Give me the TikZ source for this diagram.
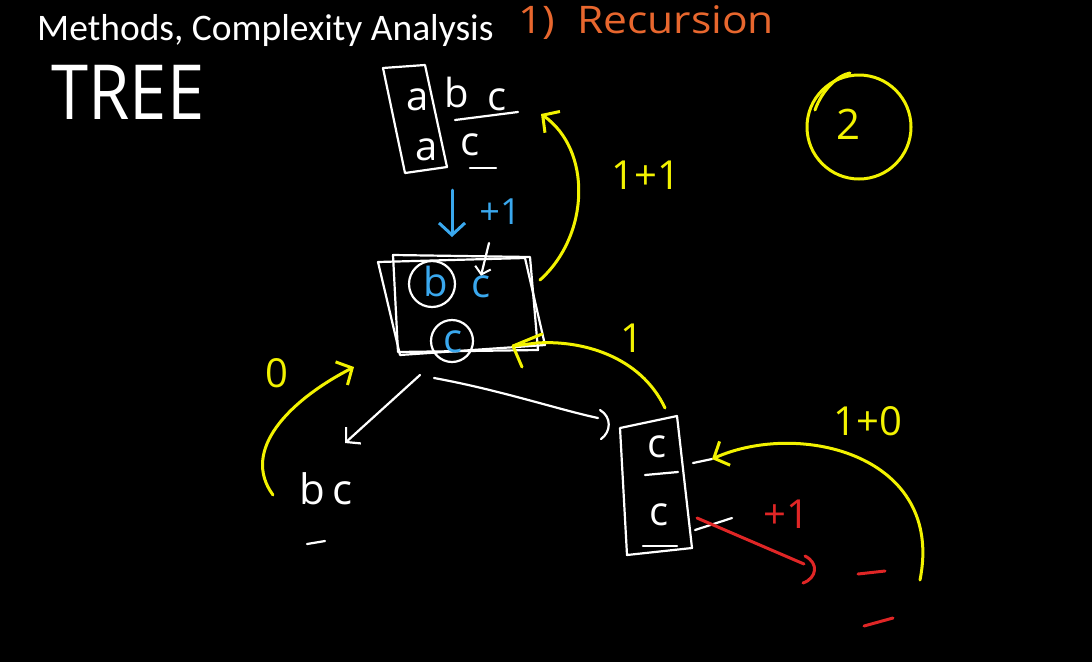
\documentclass[tikz,border=0pt]{standalone}
\usepackage{fontspec}
\setmainfont{Open Sans}
\newfontfamily\titlefont{Carlito}
\usetikzlibrary{arrows.meta}
\definecolor{hy}{HTML}{F2F200}
\definecolor{hb}{HTML}{3AA8EE}
\definecolor{hr}{HTML}{E02626}
\definecolor{ho}{HTML}{E8672E}
\tikzset{
  wl/.style={draw=white, line width=2.2pt},
  yl/.style={draw=hy, line width=3pt},
  bl/.style={draw=hb, line width=3pt},
  rl/.style={draw=hr, line width=3pt},
  barb/.style={-{Straight Barb[length=12pt,width=26pt,line width=3pt]}},
  wbarb/.style={-{Straight Barb[length=10pt,width=22pt,line width=2.2pt]}},
  hw/.style={inner sep=0pt, font=\fontsize{40}{42}\selectfont},
  hws/.style={inner sep=0pt, font=\fontsize{36}{38}\selectfont}
}
\begin{document}
\begin{tikzpicture}[x=1pt,y=-1pt,line cap=round,line join=round]
\fill[black] (0,0) rectangle (1092,662);
\useasboundingbox (0,0) rectangle (1092,662);

% title and headings
\node[inner sep=0pt, anchor=base west, text=white, font=\titlefont\fontsize{37.5}{40}\selectfont] (title) at (37,40) {Methods, Complexity Analysis};
\node[inner sep=0pt, text=ho, xscale=1.12, font=\fontsize{38}{40}\selectfont] (rec) at (646,23) {1)\ \ Recursion};
\node[inner sep=0pt, text=white, xscale=0.88, font=\fontsize{76}{80}\selectfont] (tree) at (128,92) {TREE};

% top box
\coordinate (tb1) at (383,68);
\coordinate (tb2) at (425,65);
\coordinate (tb3) at (447,167);
\coordinate (tb4) at (405,173);
\draw[wl] (tb1) -- (tb2) -- (tb3) -- (tb4) -- cycle;
\node[hw, text=white] (ta1) at (418,100) {a};
\node[hw, text=white] (tb) at (457,92) {b};
\node[hw, text=white] (tc) at (497,100) {c};
\node[hw, text=white] (ta2) at (427,150) {a};
\node[hw, text=white] (tc2) at (470,145) {c};
\coordinate (u1a) at (455,120); \coordinate (u1b) at (518,112);
\draw[wl] (u1a) -- (u1b);
\coordinate (u2a) at (470,168); \coordinate (u2b) at (496,168);
\draw[wl] (u2a) -- (u2b);

% blue arrow +1
\coordinate (ba1) at (452,190);
\coordinate (ba2) at (452,237);
\draw[bl, barb] (ba1) -- (ba2);
\node[hws, text=hb] (bp1) at (500,212) {+1};

% middle box
\coordinate (ma1) at (378,262); \coordinate (ma2) at (525,258);
\coordinate (ma3) at (545,345); \coordinate (ma4) at (400,355);
\draw[wl] (ma1) -- (ma2) -- (ma3) -- (ma4) -- cycle;
\coordinate (mb1) at (393,255); \coordinate (mb2) at (530,257);
\coordinate (mb3) at (538,350); \coordinate (mb4) at (398,352);
\draw[wl] (mb1) -- (mb2) -- (mb3) -- (mb4) -- cycle;
\node[wl, circle, minimum size=46pt, inner sep=0pt] (cb) at (432,284) {};
\node[wl, circle, minimum size=42pt, inner sep=0pt] (cc) at (452,341) {};
\node[hw, text=hb] (bb) at (436,281) {b};
\node[hw, text=hb] (bc1) at (481,287) {c};
\node[hw, text=hb] (bc2) at (453,342) {c};
\coordinate (wa) at (489,243);
\draw[wl, -{Straight Barb[length=7pt,width=16pt,line width=2pt]}] (wa) -- (bc1.north);

% yellow 1+1 arrow
\coordinate (y11s) at (540,280);
\coordinate (y11e) at (541,114);
\draw[yl, barb] (y11s) .. controls (590,235) and (592,150) .. (y11e);
\node[inner sep=0pt, text=hy, font=\fontsize{40}{42}\selectfont] (l11) at (646,175) {1+1};

% circled 2
\node[draw=hy, line width=3pt, circle, minimum size=104pt, inner sep=0pt] (circ2) at (859,127) {};
\coordinate (c2a) at (815,110); \coordinate (c2b) at (850,73);
\draw[yl] (c2a) .. controls (822,90) and (838,75) .. (c2b);
\node[inner sep=0pt, text=hy, font=\fontsize{42}{44}\selectfont] (two) at (848,124) {2};

% white arrows from middle node
\coordinate (wl1) at (420,375);
\coordinate (wl2) at (345,443);
\draw[wl, wbarb] (wl1) -- (wl2);
\coordinate (wc1) at (434,378);
\coordinate (wc2) at (598,418);
\draw[wl] (wc1) .. controls (500,390) and (560,410) .. (wc2);
\coordinate (wp1) at (600,410); \coordinate (wp2) at (601,439);
\draw[wl] (wp1) .. controls (612,417) and (611,432) .. (wp2);

% bc node
\node[inner sep=0pt, text=white, font=\fontsize{42}{44}\selectfont] (nbc) at (326,489) {b\,c};
\coordinate (d1a) at (307,544); \coordinate (d1b) at (325,541);
\draw[wl] (d1a) -- (d1b);

% yellow 0 arrow
\node[inner sep=0pt, text=hy, font=\fontsize{40}{42}\selectfont] (l0) at (277,373) {0};
\coordinate (y0s) at (273,495);
\coordinate (y0e) at (354,367);
\draw[yl, barb] (y0s) .. controls (240,450) and (290,400) .. (y0e);

% yellow 1 curve
\node[inner sep=0pt, text=hy, font=\fontsize{40}{42}\selectfont] (l1) at (632,338) {1};
\coordinate (y1s) at (665,408);
\coordinate (y1e) at (513,346);
\draw[yl] (y1s) .. controls (640,355) and (580,340) .. (537,343) -- (y1e);
\coordinate (y1t) at (522,367);
\draw[yl] (y1e) -- (y1t);
\coordinate (y1u) at (542,334);
\draw[yl] (y1e) -- (y1u);

% right box
\coordinate (rb1) at (620,428); \coordinate (rb2) at (677,416);
\coordinate (rb3) at (692,548); \coordinate (rb4) at (627,555);
\draw[wl] (rb1) -- (rb2) -- (rb3) -- (rb4) -- cycle;
\node[hw, text=white] (rc1) at (657,447) {c};
\node[hw, text=white] (rc2) at (659,515) {c};
\coordinate (ru1a) at (645,475); \coordinate (ru1b) at (678,472);
\draw[wl] (ru1a) -- (ru1b);
\coordinate (ru2a) at (643,546); \coordinate (ru2b) at (677,546);
\draw[wl] (ru2a) -- (ru2b);
\coordinate (rt1a) at (693,463); \coordinate (rt1b) at (712,459);
\draw[wl] (rt1a) -- (rt1b);
\coordinate (rt2a) at (695,530); \coordinate (rt2b) at (732,518);
\draw[wl] (rt2a) -- (rt2b);

% yellow 1+0 arrow
\node[inner sep=0pt, text=hy, font=\fontsize{40}{42}\selectfont] (l10) at (868,421) {1+0};
\coordinate (y10s) at (920,580);
\draw[yl, barb] (y10s) .. controls (945,455) and (800,420) .. (rt1b);

% red +1 arrow
\coordinate (rs) at (697,518);
\coordinate (re) at (804,564);
\draw[rl] (rs) -- (re);
\coordinate (rp1) at (805,556); \coordinate (rp2) at (803,583);
\draw[rl] (rp1) .. controls (819,563) and (817,578) .. (rp2);
\node[inner sep=0pt, text=hr, font=\fontsize{40}{42}\selectfont] (rp) at (786,514) {+1};
\coordinate (rd1a) at (858,574); \coordinate (rd1b) at (885,571);
\draw[rl] (rd1a) -- (rd1b);
\coordinate (rd2a) at (864,626); \coordinate (rd2b) at (893,618);
\draw[rl] (rd2a) -- (rd2b);
\end{tikzpicture}
\end{document}
